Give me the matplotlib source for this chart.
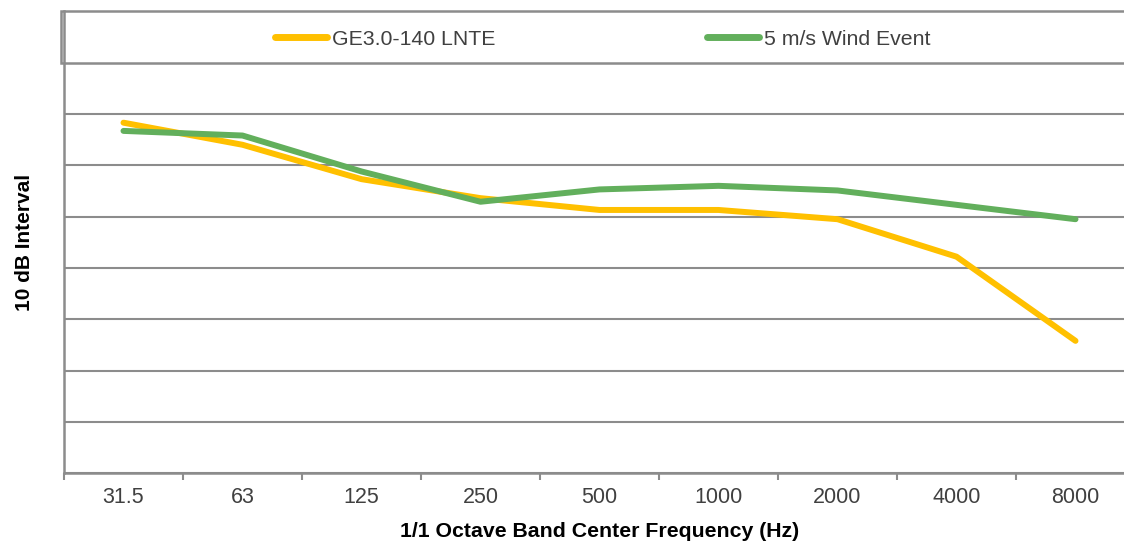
import matplotlib
matplotlib.use("Agg")
import matplotlib.pyplot as plt
from matplotlib.patches import Rectangle
from matplotlib.ticker import FixedLocator, NullFormatter, FixedFormatter

plt.rcParams['font.family'] = ['Liberation Sans', 'DejaVu Sans']

# Octave band centre frequencies and sound levels (dB, arbitrary reference)
bands = ["31.5", "63", "125", "250", "500", "1000", "2000", "4000", "8000"]
ge_lnte = [68.3, 64.0, 57.3, 53.6, 51.3, 51.3, 49.5, 42.2, 25.8]
wind_5ms = [66.7, 65.8, 58.8, 52.9, 55.3, 56.0, 55.1, 52.3, 49.5]

y_min, y_max, y_step = 0, 90, 10

GRID = "#8c8c8c"
YELLOW = "#FFC000"
GREEN = "#62AF5C"
TEXT = "#404040"

fig = plt.figure(figsize=(11.24, 5.42), dpi=100)
ax = fig.add_axes([64 / 1124, (542 - 473.3) / 542, (1135 - 64) / 1124, (473.3 - 11.3) / 542])

x = list(range(len(bands)))
ax.plot(x, ge_lnte, color=YELLOW, lw=4.3, solid_capstyle="round", solid_joinstyle="round",
        label="GE3.0-140 LNTE", zorder=3)
ax.plot(x, wind_5ms, color=GREEN, lw=4.3, solid_capstyle="round", solid_joinstyle="round",
        label="5 m/s Wind Event", zorder=4)

ax.set_xlim(-0.5, len(bands) - 0.5)
ax.set_ylim(y_min, y_max)

# horizontal gridlines every 10 dB, no value labels
ax.set_yticks(range(y_min, y_max + 1, y_step))
ax.set_yticklabels([])
ax.tick_params(axis="y", length=0)
ax.grid(axis="y", color=GRID, lw=1.5)
ax.set_axisbelow(True)

# category ticks between bands, labels centred under each band
ax.xaxis.set_major_locator(FixedLocator([i - 0.5 for i in range(len(bands) + 1)]))
ax.xaxis.set_major_formatter(NullFormatter())
ax.xaxis.set_minor_locator(FixedLocator(x))
ax.xaxis.set_minor_formatter(FixedFormatter(bands))
ax.tick_params(axis="x", which="major", direction="out", length=5, width=1.5, color=GRID)
ax.tick_params(axis="x", which="minor", length=0, pad=10, labelsize=15.5, labelcolor=TEXT)

for side in ("top", "right"):
    ax.spines[side].set_visible(False)
for side in ("left", "bottom"):
    ax.spines[side].set_color(GRID)
    ax.spines[side].set_linewidth(1.8)

ax.set_xlabel("1/1 Octave Band Center Frequency (Hz)", fontsize=15.3, fontweight="bold",
              color="black", labelpad=10)
ax.set_ylabel("10 dB Interval", fontsize=15, fontweight="bold", color="black", labelpad=18)

# legend band across the top of the plot
trans = ax.get_yaxis_transform()
box = Rectangle((-0.0025, 80), 1.01, 10.15, transform=trans, facecolor="white",
                edgecolor=GRID, lw=1.8, clip_on=False, zorder=2)
ax.add_patch(box)
leg = ax.legend(loc="center", bbox_to_anchor=(0.503, 0.94), ncol=2, frameon=False,
                fontsize=15.3, handlelength=2.45, handletextpad=0.2, columnspacing=10.0,
                borderaxespad=0)
for t in leg.get_texts():
    t.set_color(TEXT)
for h in leg.get_lines():
    h.set_linewidth(5)
    h.set_solid_capstyle("round")
leg.set_zorder(5)

fig.savefig("out.png", dpi=100)
